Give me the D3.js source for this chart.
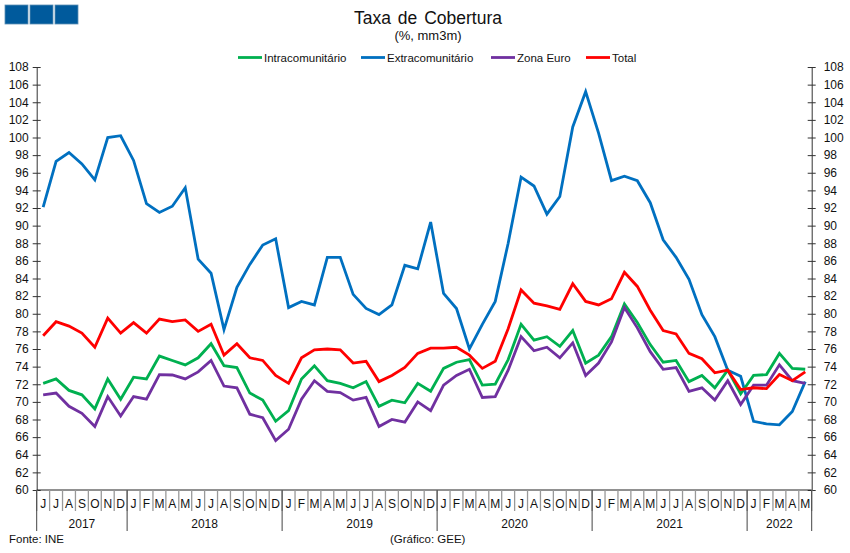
<!DOCTYPE html>
<html>
<head>
<meta charset="utf-8">
<script src="https://cdn.jsdelivr.net/npm/d3@7"></script>
<style>
  body { margin: 0; background: #fff; }
  text { font-family: "Liberation Sans", Arial, sans-serif; fill: #111; }
</style>
</head>
<body>
<svg id="chart" width="850" height="553"></svg>
<script>
var months = ["J","J","A","S","O","N","D",
  "J","F","M","A","M","J","J","A","S","O","N","D",
  "J","F","M","A","M","J","J","A","S","O","N","D",
  "J","F","M","A","M","J","J","A","S","O","N","D",
  "J","F","M","A","M","J","J","A","S","O","N","D",
  "J","F","M","A","M"];
var years = ["2017","2018","2019","2020","2021","2022"];
var yearCounts = [7, 12, 12, 12, 12, 5];

var intra = [72.1,72.6,71.3,70.8,69.2,72.6,70.3,
  72.8,72.6,75.2,74.7,74.2,75,76.6,74.1,73.9,71,70.2,67.8,
  69,72.6,74.1,72.4,72.1,71.6,72.3,69.5,70.2,69.9,72.1,71.2,
  73.8,74.5,74.8,71.9,72,74.8,78.8,77,77.4,76.3,78.1,74.4,
  75.3,77.4,81.1,79,76.5,74.5,74.7,72.3,73,71.6,73.6,70.9,
  73,73.1,75.5,73.8,73.7];
var extra = [92.1,97.3,98.3,97,95.2,100,100.2,
  97.4,92.5,91.5,92.2,94.3,86.2,84.6,78.2,83,85.6,87.8,88.5,
  80.7,81.4,81,86.4,86.4,82.2,80.6,79.9,81,85.5,85.1,90.4,
  82.3,80.6,76,78.8,81.4,88,95.5,94.5,91.3,93.3,101.2,105.2,
  100.5,95.1,95.6,95.1,92.6,88.4,86.4,83.9,79.9,77.4,73.6,72.9,
  67.8,67.5,67.4,68.9,72.3];
var zona = [70.8,71,69.5,68.7,67.2,70.6,68.4,
  70.6,70.3,73.1,73.05,72.6,73.4,74.7,71.8,71.6,68.6,68.2,65.6,
  66.9,70.3,72.4,71.2,71.05,70.2,70.5,67.2,68,67.7,70,69,
  71.9,73,73.7,70.5,70.6,73.6,77.4,75.8,76.2,75,76.7,73,
  74.4,76.8,80.7,78.4,75.7,73.7,73.9,71.2,71.6,70.2,72.4,69.7,
  71.9,71.9,74.2,72.4,72.1];
var total = [77.5,79.1,78.6,77.8,76.2,79.5,77.8,
  79,77.8,79.4,79.1,79.3,78,78.8,75.3,76.6,75,74.7,73,
  72.1,75,75.9,76,75.9,74.4,74.6,72.3,73,73.9,75.5,76.1,
  76.1,76.2,75.3,73.8,74.6,78.3,82.7,81.2,80.9,80.5,83.4,81.4,
  81,81.7,84.7,83.1,80.4,78.1,77.7,75.5,74.9,73.3,73.6,71.4,
  71.6,71.5,73.1,72.4,73.4];

var seriesNames = ["Intracomunitário","Extracomunitário","Zona Euro","Total"];
var seriesValues = [intra, extra, zona, total];
var seriesColors = ["#00b050","#0070c0","#7030a0","#ff0000"];
var drawOrder = [1, 0, 2, 3];
var legendX = [238, 361, 491, 586];

var plotLeft = 36.7, plotRight = 811.7, plotTop = 67, plotBottom = 490;
var svg = d3.select("#chart");

var x = d3.scaleBand().domain(d3.range(months.length)).range([plotLeft, plotRight]);
var y = d3.scaleLinear().domain([60, 108]).range([plotBottom, plotTop]);
var yTicks = d3.range(60, 109, 2);

// logo blocks
svg.selectAll(".logo").data([5, 30, 55]).enter().append("rect")
  .attr("x", function (d) { return d; }).attr("y", 5)
  .attr("width", 23).attr("height", 19)
  .attr("fill", "#005a9c").attr("stroke", "#5d8fb5").attr("stroke-width", 0.8);

svg.append("text").attr("x", 428).attr("y", 24).attr("text-anchor", "middle")
  .style("font-size", "17.5px").style("word-spacing", "2px").text("Taxa de Cobertura");
svg.append("text").attr("x", 428).attr("y", 40).attr("text-anchor", "middle")
  .style("font-size", "13px").text("(%, mm3m)");

// y axes, ticks cross the line
function styleAxis(g) {
  g.select(".domain").attr("stroke", "#333");
  g.selectAll(".tick line").attr("stroke", "#333").attr("x1", -4).attr("x2", 4);
  g.selectAll(".tick text").style("font-size", "12px").attr("fill", "#111");
}
svg.append("g").attr("transform", "translate(" + plotLeft + ",0)")
  .call(d3.axisLeft(y).tickValues(yTicks).tickSize(4).tickSizeOuter(0).tickPadding(4))
  .call(styleAxis);
svg.append("g").attr("transform", "translate(" + plotRight + ",0)")
  .call(d3.axisRight(y).tickValues(yTicks).tickSize(4).tickSizeOuter(0).tickPadding(8))
  .call(styleAxis);

// x axis: months and years
svg.append("line").attr("x1", plotLeft).attr("x2", plotRight).attr("y1", plotBottom).attr("y2", plotBottom)
  .attr("stroke", "#222");
svg.selectAll(".msep").data(d3.range(months.length + 1)).enter().append("line")
  .attr("x1", function (d) { return plotLeft + d * x.bandwidth(); })
  .attr("x2", function (d) { return plotLeft + d * x.bandwidth(); })
  .attr("y1", plotBottom).attr("y2", 511)
  .attr("stroke", "#999").attr("stroke-width", 1.3);
svg.selectAll(".mlabel").data(months).enter().append("text")
  .attr("x", function (d, i) { return x(i) + x.bandwidth() / 2; })
  .attr("y", 508).attr("text-anchor", "middle")
  .style("font-size", "12px").text(function (d) { return d; });

var cum = [0];
yearCounts.forEach(function (c, i) { cum.push(cum[i] + c); });
svg.selectAll(".ysep").data(cum).enter().append("line")
  .attr("x1", function (d) { return plotLeft + d * x.bandwidth(); })
  .attr("x2", function (d) { return plotLeft + d * x.bandwidth(); })
  .attr("y1", plotBottom).attr("y2", 531)
  .attr("stroke", "#444");
svg.selectAll(".ylabel").data(years).enter().append("text")
  .attr("x", function (d, i) { return plotLeft + (cum[i] + yearCounts[i] / 2) * x.bandwidth(); })
  .attr("y", 528).attr("text-anchor", "middle")
  .style("font-size", "12px").text(function (d) { return d; });

// lines
var line = d3.line()
  .x(function (d, i) { return x(i) + x.bandwidth() / 2; })
  .y(function (d) { return y(d); });
drawOrder.forEach(function (s) {
  svg.append("path").datum(seriesValues[s])
    .attr("d", line).attr("fill", "none")
    .attr("stroke", seriesColors[s]).attr("stroke-width", 2.8)
    .attr("stroke-linejoin", "miter");
});

// legend
seriesNames.forEach(function (name, i) {
  svg.append("line").attr("x1", legendX[i]).attr("x2", legendX[i] + 24)
    .attr("y1", 57.5).attr("y2", 57.5)
    .attr("stroke", seriesColors[i]).attr("stroke-width", 2.8);
  svg.append("text").attr("x", legendX[i] + 26).attr("y", 62)
    .style("font-size", "11.5px").text(name);
});

svg.append("text").attr("x", 9).attr("y", 543).style("font-size", "11.5px").text("Fonte: INE");
svg.append("text").attr("x", 390).attr("y", 543).style("font-size", "11.5px").text("(Gráfico: GEE)");
</script>
</body>
</html>
